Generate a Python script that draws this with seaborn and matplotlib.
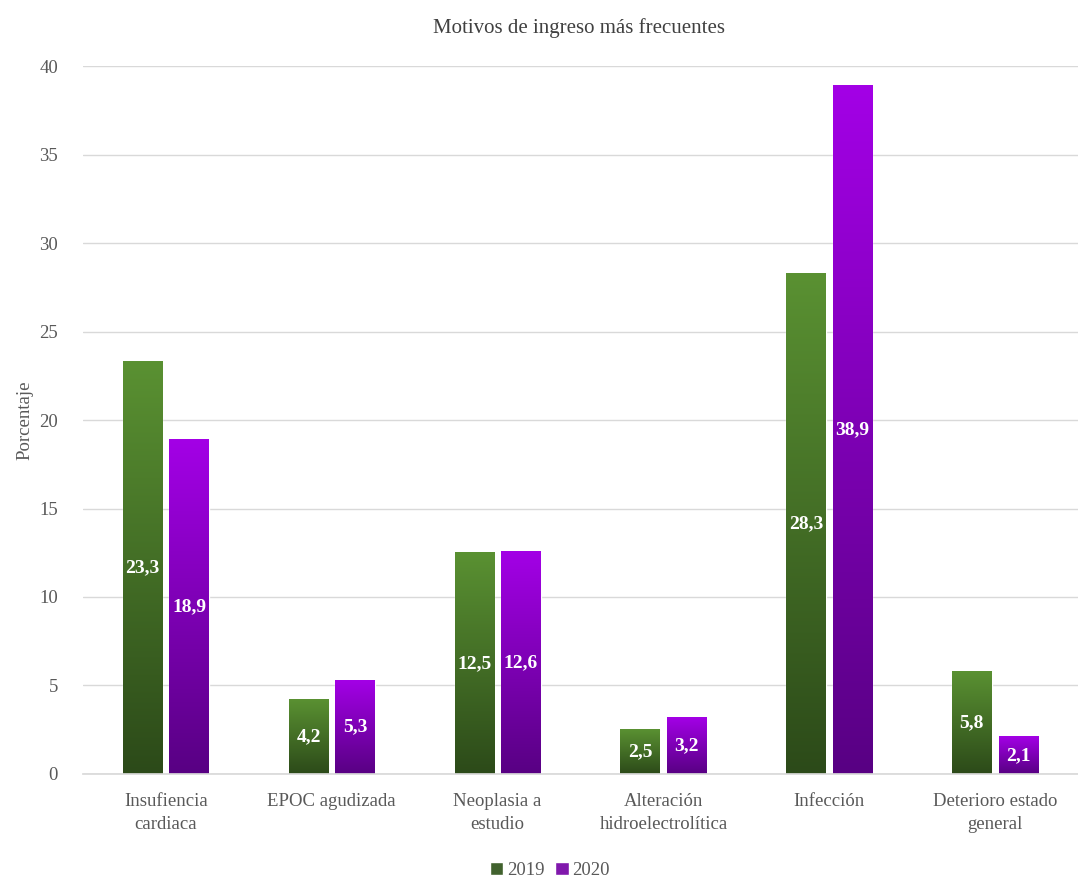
import numpy as np
import pandas as pd
import matplotlib
matplotlib.use('Agg')
import matplotlib.pyplot as plt
import seaborn as sns
from matplotlib.colors import LinearSegmentedColormap

# data
categories = ['Insufiencia\ncardiaca', 'EPOC agudizada', 'Neoplasia a\nestudio',
              'Alteración\nhidroelectrolítica', 'Infección', 'Deterioro estado\ngeneral']
years = ['2019', '2020']
vals_2019 = [23.3, 4.2, 12.5, 2.5, 28.3, 5.8]
vals_2020 = [18.9, 5.3, 12.6, 3.2, 38.9, 2.1]

df = pd.DataFrame({
    'Motivo': categories * 2,
    'Año': ['2019'] * len(categories) + ['2020'] * len(categories),
    'Porcentaje': vals_2019 + vals_2020,
})

# colours: (top, bottom) of the gradient
grad_cols = {'2019': ('#5a9132', '#2c4a19'), '2020': ('#a300e6', '#580083')}
legend_cols = {'2019': '#3f6b25', '2020': '#8a00c4'}

sns.set_theme(style='white')
plt.rcParams['font.family'] = ['Liberation Serif', 'DejaVu Serif']
text_col = '#595959'

fig = plt.figure(figsize=(10.78, 8.81), dpi=100)
ax = fig.add_axes([0.077, 0.1215, 0.923, 0.8035])

sns.barplot(data=df, x='Motivo', y='Porcentaje', hue='Año',
            palette=legend_cols, width=0.56, gap=0.15, ax=ax,
            order=categories, hue_order=years, legend=True)

# gradient fill on every bar + value labels
for cont, yr in zip(ax.containers, years):
    cmap = LinearSegmentedColormap.from_list(yr, [grad_cols[yr][1], grad_cols[yr][0]])
    for p in cont.patches:
        x0, w, h = p.get_x(), p.get_width(), p.get_height()
        grad = np.linspace(0, 1, 256).reshape(-1, 1)
        ax.imshow(grad, extent=[x0, x0 + w, 0, h], origin='lower', aspect='auto',
                  cmap=cmap, zorder=2)
        ax.text(x0 + w / 2, h / 2, f'{h:.1f}'.replace('.', ','), ha='center', va='center',
                color='white', fontsize=14, fontweight='bold', zorder=3)

ax.set_xlim(-0.5, len(categories) - 0.5)
ax.set_ylim(0, 40)
ax.set_yticks(range(0, 41, 5))
ax.yaxis.grid(True, color='#d9d9d9', linewidth=1)
ax.set_axisbelow(True)
for s in ['top', 'right', 'left']:
    ax.spines[s].set_visible(False)
ax.spines['bottom'].set_color('#d9d9d9')
ax.tick_params(axis='both', length=0, labelsize=13.5, colors=text_col)
ax.tick_params(axis='x', pad=14)
ax.tick_params(axis='y', pad=18)
for lbl in ax.get_xticklabels():
    lbl.set_linespacing(1.45)
ax.set_xlabel('')
ax.set_ylabel('Porcentaje', fontsize=13.5, color=text_col, labelpad=4)
fig.text(0.537, 0.968, 'Motivos de ingreso más frecuentes', ha='center', va='center',
         fontsize=15, color='#404040')

ax.legend(loc='lower center', bbox_to_anchor=(0.51, -0.017), bbox_transform=fig.transFigure,
          ncol=2, frameon=False, title=None, fontsize=13.5, handlelength=0.7,
          handleheight=0.7, handletextpad=0.2, columnspacing=0.6, labelcolor=text_col)

fig.savefig('out.png', dpi=100)
